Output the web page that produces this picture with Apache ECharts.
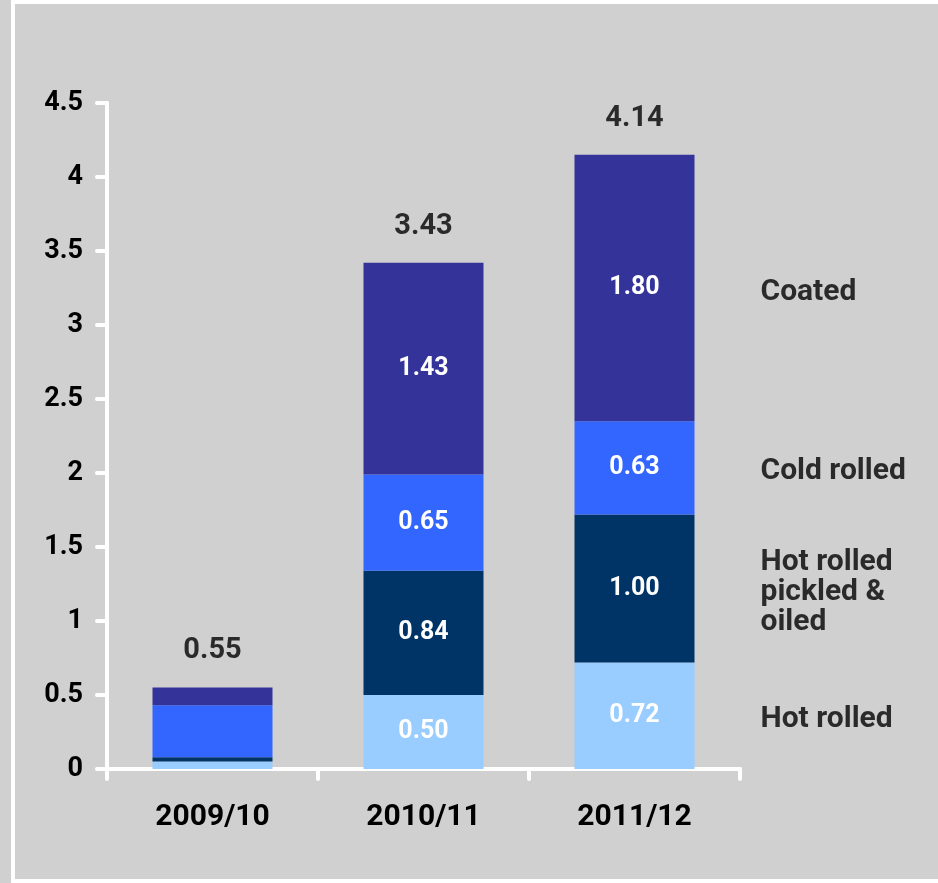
<!DOCTYPE html>
<html>
<head>
<meta charset="utf-8">
<script src="https://cdn.jsdelivr.net/npm/echarts@6/dist/echarts.min.js"></script>
<style>
  html, body { margin: 0; padding: 0; background: #d0d0d0; }
  #chart { width: 938px; height: 883px; }
</style>
</head>
<body>
<div id="chart"></div>
<script>
const years = ['2009/10', '2010/11', '2011/12']
const hotRolled = [0.05, 0.50, 0.72]
const hotRolledPO = [0.03, 0.84, 1.00]
const coldRolled = [0.35, 0.65, 0.63]
const coated = [0.12, 1.43, 1.80]
const totals = ['0.55', '3.43', '4.14']
const showInside = [false, true, true]

const font = 'Roboto'
const stacks = years.map((y, i) => hotRolled[i] + hotRolledPO[i] + coldRolled[i] + coated[i])

// side labels sit at the middle of each segment of the last bar
const last = years.length - 1
const sideNames = ['Hot rolled', 'Hot rolled\npickled &\noiled', 'Cold rolled', 'Coated']
const segs = [hotRolled, hotRolledPO, coldRolled, coated]
let base = 0
const sideMid = segs.map(s => {
  const mid = base + s[last] / 2
  base += s[last]
  return mid
})

const insideLabel = {
  show: true,
  position: 'inside',
  color: '#fff',
  fontFamily: font,
  fontWeight: 'bold',
  fontSize: 25,
  formatter: p => showInside[p.dataIndex] ? p.value.toFixed(2) : ''
}

const barSeries = (name, data, color) => ({
  name,
  type: 'bar',
  stack: 'total',
  data,
  barWidth: 120,
  itemStyle: { color },
  label: insideLabel
})

const chart = echarts.init(document.getElementById('chart'))
chart.setOption({
  backgroundColor: '#d0d0d0',
  animation: false,
  graphic: [
    {
      type: 'rect',
      shape: { x: 13, y: 2, width: 940, height: 879 },
      style: { fill: 'none', stroke: '#fff', lineWidth: 4 },
      silent: true
    }
  ],
  grid: { left: 107, right: 198, top: 103, bottom: 114 },
  xAxis: {
    type: 'category',
    data: years,
    axisLine: { lineStyle: { color: '#fff', width: 4 } },
    axisTick: { show: true, length: 10, lineStyle: { color: '#fff', width: 4, cap: 'round' } },
    axisLabel: { color: '#000', fontFamily: font, fontWeight: 'bold', fontSize: 30, margin: 33 }
  },
  yAxis: {
    type: 'value',
    min: 0,
    max: 4.5,
    interval: 0.5,
    splitLine: { show: false },
    axisLine: { show: true, lineStyle: { color: '#fff', width: 4 } },
    axisTick: { show: true, length: 10, lineStyle: { color: '#fff', width: 4, cap: 'round' } },
    axisLabel: { color: '#000', fontFamily: font, fontWeight: 'bold', fontSize: 27, margin: 24 }
  },
  series: [
    barSeries('Hot rolled', hotRolled, '#99ccff'),
    barSeries('Hot rolled pickled & oiled', hotRolledPO, '#003366'),
    barSeries('Cold rolled', coldRolled, '#3366ff'),
    barSeries('Coated', coated, '#333399'),
    {
      name: 'totals',
      type: 'scatter',
      symbolSize: 0,
      data: years.map((y, i) => [y, stacks[i]]),
      label: {
        show: true,
        position: 'top',
        distance: 22,
        color: '#000',
        fontFamily: font,
        fontWeight: 'bold',
        fontSize: 29,
        formatter: p => totals[p.dataIndex]
      }
    },
    {
      name: 'side',
      type: 'scatter',
      symbolSize: 0,
      data: sideMid.map(v => [years[last], v]),
      label: {
        show: true,
        position: 'right',
        distance: 126,
        offset: [0, 4],
        align: 'left',
        verticalAlign: 'middle',
        color: '#000',
        fontFamily: font,
        fontWeight: 'bold',
        fontSize: 30,
        lineHeight: 30,
        formatter: p => sideNames[p.dataIndex]
      }
    }
  ]
})
</script>
</body>
</html>
